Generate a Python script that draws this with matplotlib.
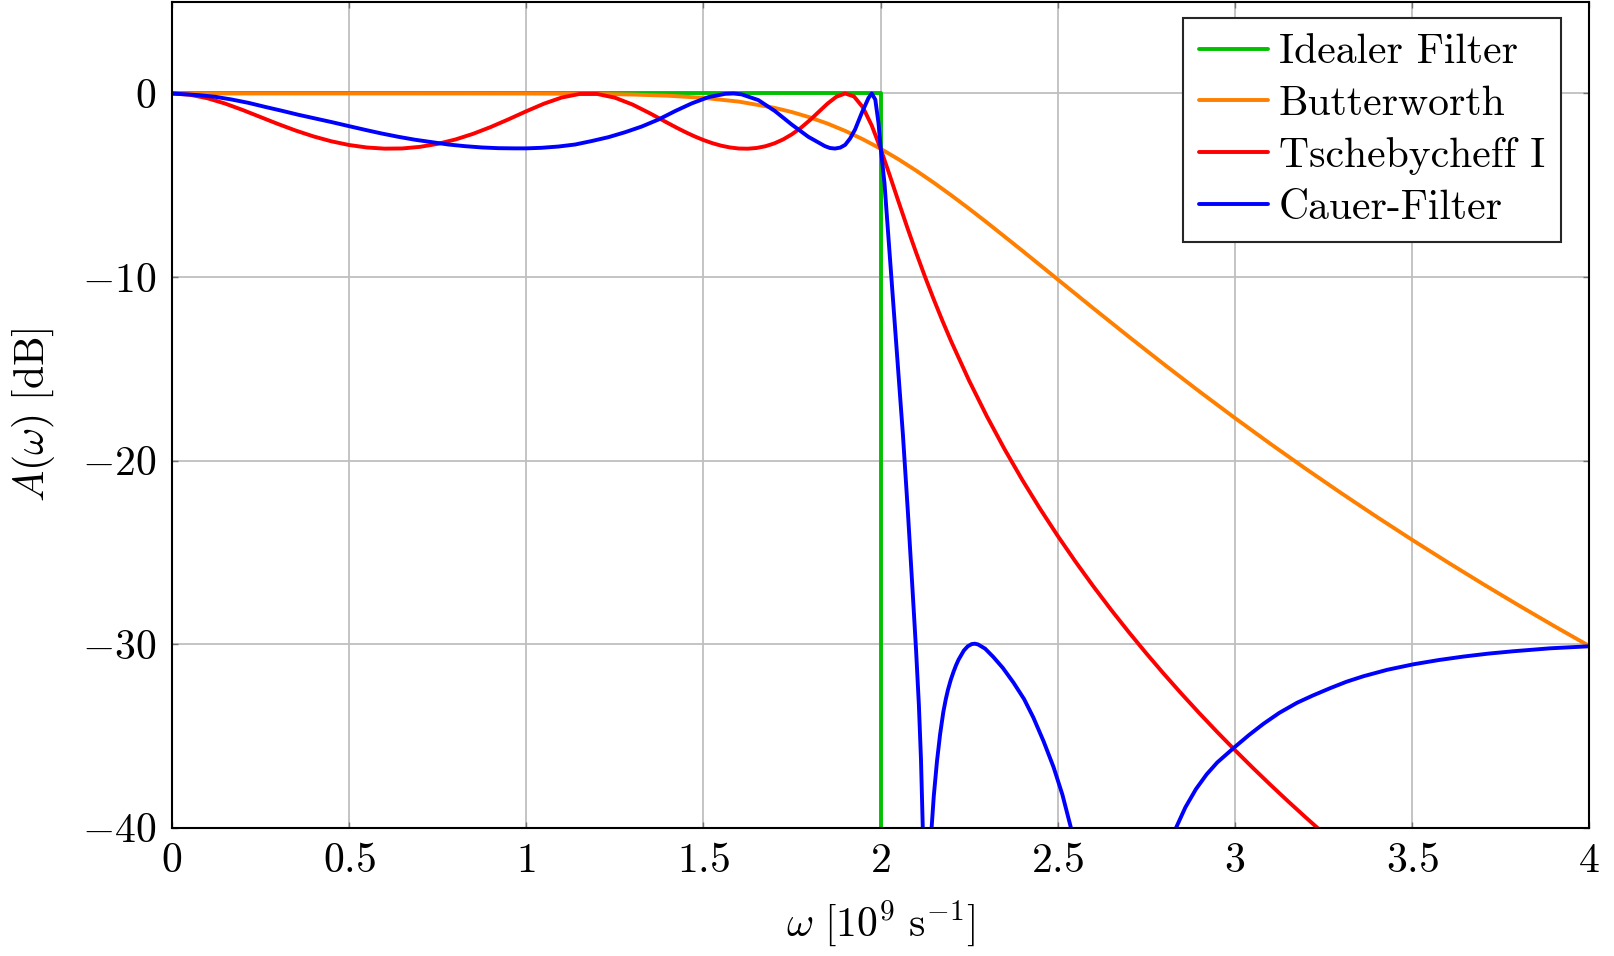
import matplotlib
matplotlib.use('Agg')
import matplotlib.pyplot as plt

# Frequenz in 10^9 1/s, Daempfung in dB
ideal_w = [0.0, 2.0, 2.0]
ideal_a = [0.0, 0.0, -40.0]

butter_w = [0.0, 0.2, 0.4, 0.6, 0.8, 1.0, 1.1, 1.2, 1.3, 1.4, 1.5, 1.6, 1.7, 1.75, 1.8, 1.85,
            1.9, 1.95, 2.0, 2.05, 2.1, 2.15, 2.2, 2.25, 2.3, 2.4, 2.5, 2.6, 2.7, 2.8, 2.9,
            3.0, 3.1, 3.2, 3.3, 3.4, 3.5, 3.6, 3.7, 3.8, 3.9, 4.0]
butter_a = [0.0, 0.0, 0.0, 0.0, -0.0004, -0.004, -0.011, -0.026, -0.058, -0.121, -0.238,
            -0.443, -0.780, -1.014, -1.300, -1.639, -2.038, -2.495, -3.010, -3.580, -4.198,
            -4.859, -5.556, -6.281, -7.029, -8.568, -10.134, -11.699, -13.244, -14.760,
            -16.241, -17.684, -19.087, -20.451, -21.777, -23.066, -24.320, -25.539,
            -26.727, -27.882, -29.009, -30.107]

tscheb_w = [0.0, 0.05, 0.1, 0.15, 0.2, 0.25, 0.3, 0.35, 0.4, 0.45, 0.5, 0.55, 0.6, 0.65,
            0.7, 0.75, 0.8, 0.85, 0.9, 0.95, 1.0, 1.05, 1.1, 1.15, 1.2, 1.25, 1.3, 1.35,
            1.375, 1.4, 1.425, 1.45, 1.475, 1.5, 1.525, 1.55, 1.575, 1.6, 1.625, 1.65,
            1.675, 1.7, 1.725, 1.75, 1.775, 1.8, 1.825, 1.85, 1.875, 1.9, 1.925, 1.95,
            1.975, 2.0, 2.025, 2.05, 2.075, 2.1, 2.125, 2.15, 2.175, 2.2, 2.25, 2.3, 2.35,
            2.4, 2.45, 2.5, 2.55, 2.6, 2.65, 2.7, 2.75, 2.8, 2.85, 2.9, 2.95, 3.0, 3.05,
            3.1, 3.15, 3.2, 3.25]
tscheb_a = [0.0, -0.067, -0.258, -0.548, -0.901, -1.284, -1.666, -2.024, -2.341, -2.605,
            -2.807, -2.942, -3.005, -2.995, -2.908, -2.745, -2.507, -2.198, -1.825, -1.407,
            -0.969, -0.555, -0.220, -0.027, -0.025, -0.228, -0.603, -1.089, -1.351, -1.614,
            -1.870, -2.113, -2.337, -2.536, -2.706, -2.843, -2.941, -2.998, -3.008, -2.969,
            -2.874, -2.720, -2.503, -2.220, -1.870, -1.460, -1.008, -0.555, -0.179, -0.001,
            -0.164, -0.754, -1.744, -3.010, -4.416, -5.860, -7.284, -8.657, -9.970,
            -11.220, -12.410, -13.542, -15.655, -17.594, -19.388, -21.060, -22.628,
            -24.108, -25.510, -26.844, -28.119, -29.338, -30.510, -31.638, -32.725,
            -33.776, -34.793, -35.779, -36.735, -37.665, -38.569, -39.449, -40.31]

cauer_w = [0.0, 0.075, 0.122, 0.169, 0.216, 0.263, 0.31, 0.357, 0.404, 0.451, 0.5, 0.545,
           0.592, 0.639, 0.686, 0.733, 0.78, 0.827, 0.874, 0.921, 0.968, 1.0, 1.043, 1.091,
           1.138, 1.185, 1.232, 1.279, 1.326, 1.373, 1.42, 1.467, 1.514, 1.561, 1.585,
           1.608, 1.655, 1.702, 1.749, 1.796, 1.843, 1.857, 1.871, 1.886, 1.9, 1.914,
           1.928, 1.947, 1.966, 1.975, 1.985, 1.994, 2.0, 2.011, 2.025, 2.044, 2.063,
           2.077, 2.09, 2.1, 2.108, 2.114, 2.119, 2.124, 2.132, 2.14, 2.144, 2.15, 2.159,
           2.168, 2.177, 2.184, 2.19, 2.198, 2.206, 2.213, 2.22, 2.235, 2.246, 2.257,
           2.266, 2.275, 2.295, 2.318, 2.345, 2.375, 2.405, 2.431, 2.46, 2.488, 2.513,
           2.537, 2.55, 2.68, 2.82, 2.834, 2.86, 2.89, 2.92, 2.95, 3.0, 3.04, 3.08, 3.125,
           3.175, 3.22, 3.269, 3.315, 3.363, 3.43, 3.504, 3.575, 3.645, 3.715, 3.786,
           3.89, 4.0]
cauer_a = [0.0, -0.09, -0.18, -0.33, -0.51, -0.73, -0.94, -1.16, -1.36, -1.56, -1.78, -1.98,
           -2.18, -2.36, -2.52, -2.65, -2.78, -2.87, -2.94, -2.98, -2.99, -2.99, -2.96,
           -2.89, -2.78, -2.59, -2.38, -2.11, -1.80, -1.42, -0.96, -0.54, -0.20, -0.02,
           0.0, -0.05, -0.36, -0.96, -1.69, -2.36, -2.87, -2.97, -3.0, -2.95, -2.80,
           -2.45, -1.96, -1.05, -0.24, 0.0, -0.33, -1.6, -2.9, -4.9, -8.6, -13.6, -18.6,
           -22.8, -27.0, -30.3, -33.3, -36.3, -40.0, -44.0, -60.0, -42.0, -40.0, -38.3,
           -36.4, -34.9, -33.7, -33.0, -32.5, -31.95, -31.5, -31.15, -30.85, -30.35,
           -30.12, -30.0, -29.98, -30.02, -30.25, -30.7, -31.3, -32.1, -33.0, -34.0,
           -35.3, -36.7, -38.2, -40.0, -41.0, -60.0, -40.7, -40.0, -38.9, -37.9, -37.1,
           -36.45, -35.6, -34.95, -34.35, -33.75, -33.2, -32.8, -32.4, -32.05, -31.75,
           -31.4, -31.1, -30.87, -30.68, -30.52, -30.39, -30.23, -30.12]

x_ticks = [0, 0.5, 1, 1.5, 2, 2.5, 3, 3.5, 4]
x_tick_labels = ['$0$', '$0.5$', '$1$', '$1.5$', '$2$', '$2.5$', '$3$', '$3.5$', '$4$']
y_ticks = [-40, -30, -20, -10, 0]
y_tick_labels = ['$-40$', '$-30$', '$-20$', '$-10$', '$0$']

plt.rcParams['font.family'] = 'serif'
plt.rcParams['font.serif'] = ['cmr10']
plt.rcParams['mathtext.fontset'] = 'cm'
plt.rcParams['axes.unicode_minus'] = False

fs = 30
fig = plt.figure(figsize=(16.14, 9.56), dpi=100)
ax = fig.add_axes([0.1065, 0.1343, 0.8782, 0.8639])

lw = 2.8
style = dict(lw=lw, solid_joinstyle='round', solid_capstyle='round')
ax.plot(ideal_w, ideal_a, color='#00c000', label='Idealer Filter', **style)
ax.plot(butter_w, butter_a, color='#ff8000', label='Butterworth', **style)
ax.plot(tscheb_w, tscheb_a, color='#ff0000', label='Tschebycheff I', **style)
ax.plot(cauer_w, cauer_a, color='#0000ff', label='Cauer-Filter', **style)

ax.set_xlim(0, 4)
ax.set_ylim(-40, 5)
ax.set_xticks(x_ticks)
ax.set_xticklabels(x_tick_labels)
ax.set_yticks(y_ticks)
ax.set_yticklabels(y_tick_labels)
ax.tick_params(direction='in', length=4, width=1, color='0.45', labelsize=fs,
               top=True, right=True, pad=11)
ax.grid(True, color='0.75', lw=1.3)
ax.set_axisbelow(True)
for s in ax.spines.values():
    s.set_linewidth(1.5)

ax.set_xlabel(r'$\omega\ [10^{9}\ \mathrm{s}^{-1}]$', fontsize=fs, labelpad=13)
ax.set_ylabel(r'$A(\omega)\ [\mathrm{dB}]$', fontsize=fs, labelpad=18)

leg = ax.legend(loc='upper right', bbox_to_anchor=(0.9797, 0.980), fontsize=fs,
                fancybox=False, framealpha=1, edgecolor='0.15', handlelength=1.65,
                handletextpad=0.27, labelspacing=0.34, borderpad=0.37, borderaxespad=0)
leg.get_frame().set_linewidth(1.5)

fig.savefig('out.png', dpi=100)
